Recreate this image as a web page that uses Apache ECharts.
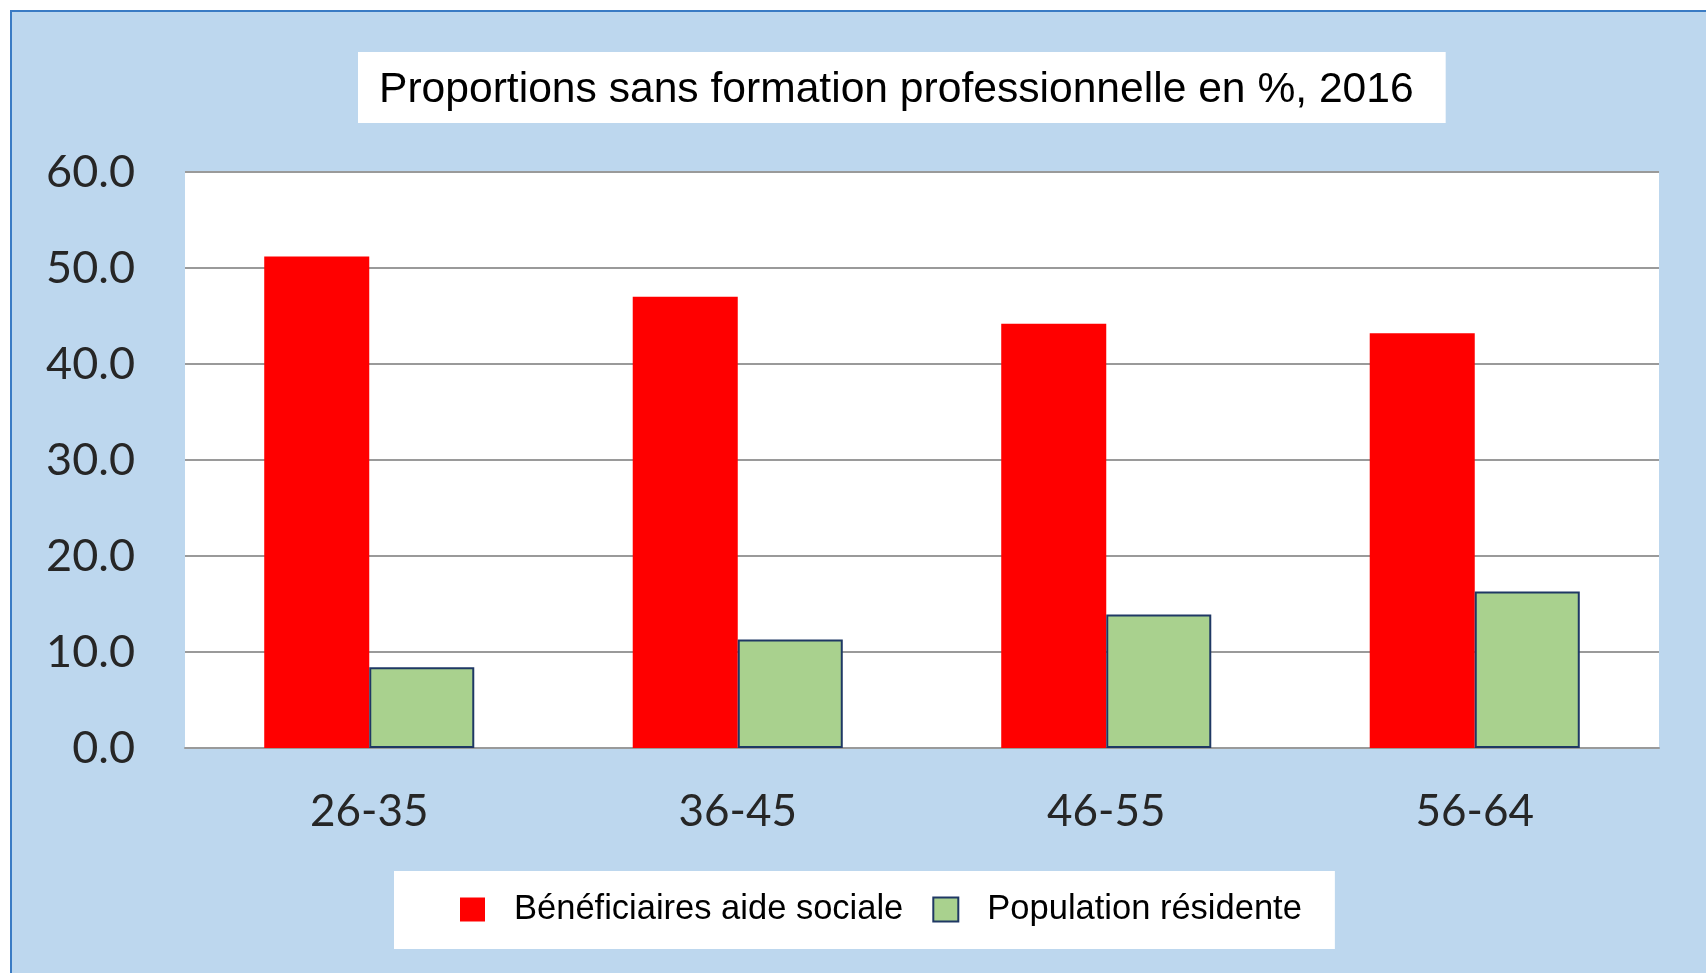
<!DOCTYPE html>
<html>
<head>
<meta charset="utf-8">
<title>Proportions sans formation professionnelle</title>
<script src="https://cdn.jsdelivr.net/npm/echarts@6/dist/echarts.min.js"></script>
<style>
  html, body { margin: 0; padding: 0; background: #fff; }
  #chart { width: 1706px; height: 973px; }
</style>
</head>
<body>
<div id="chart"></div>
<script>
// data
const categories = ['26-35', '36-45', '46-55', '56-64']
const beneficiaires = [51.2, 47.0, 44.2, 43.2]
const population = [8.4, 11.3, 13.9, 16.3]
const seriesNames = ['Bénéficiaires aide sociale', 'Population résidente']

const myChart = echarts.init(document.getElementById('chart'))

const option = {
  backgroundColor: '#ffffff',
  animation: false,
  // light blue frame behind everything
  graphic: [{
    type: 'rect',
    z: -100,
    shape: { x: 11, y: 11, width: 1800, height: 1100 },
    style: { fill: '#BDD7EE', stroke: '#3A7BC4', lineWidth: 2 }
  }],
  title: {
    text: 'Proportions sans formation professionnelle en %, 2016',
    left: 358,
    top: 52,
    backgroundColor: '#ffffff',
    padding: [17, 32, 11, 21],
    textStyle: {
      fontFamily: '"Liberation Sans", Arial, sans-serif',
      fontWeight: 'normal',
      fontSize: 42.6,
      lineHeight: 43,
      color: '#000000'
    }
  },
  legend: {
    left: 394,
    top: 871,
    backgroundColor: '#ffffff',
    padding: [21, 33, 22, 66],
    itemWidth: 25,
    itemHeight: 24,
    itemGap: 29,
    icon: 'rect',
    data: seriesNames,
    textStyle: {
      fontFamily: '"Liberation Sans", Arial, sans-serif',
      fontSize: 34.5,
      lineHeight: 33,
      color: '#000000',
      padding: [0, 0, 0, 24]
    }
  },
  grid: {
    left: 185,
    right: 47,
    top: 172,
    bottom: 225,
    show: true,
    backgroundColor: '#ffffff',
    borderWidth: 0,
    containLabel: false
  },
  xAxis: {
    type: 'category',
    data: categories,
    axisLine: { show: true, lineStyle: { color: '#9a9a9a', width: 2 } },
    axisTick: { show: false },
    axisLabel: {
      margin: 42,
      fontFamily: 'Lato, "Open Sans", sans-serif',
      fontSize: 44,
      color: '#262626'
    }
  },
  yAxis: {
    type: 'value',
    min: 0,
    max: 60,
    interval: 10,
    axisLine: { show: false },
    axisTick: { show: false },
    splitLine: { show: true, lineStyle: { color: '#9a9a9a', width: 2 } },
    axisLabel: {
      margin: 50,
      fontFamily: 'Lato, "Open Sans", sans-serif',
      fontSize: 45,
      color: '#262626',
      formatter: v => v.toFixed(1)
    }
  },
  series: [
    {
      name: seriesNames[0],
      type: 'bar',
      barGap: '0%',
      barCategoryGap: '43%',
      itemStyle: { color: '#FF0000' },
      data: beneficiaires
    },
    {
      name: seriesNames[1],
      type: 'bar',
      itemStyle: { color: '#A9D18E', borderColor: '#1F3864', borderWidth: 2 },
      data: population
    }
  ]
}

myChart.setOption(option)
</script>
</body>
</html>
